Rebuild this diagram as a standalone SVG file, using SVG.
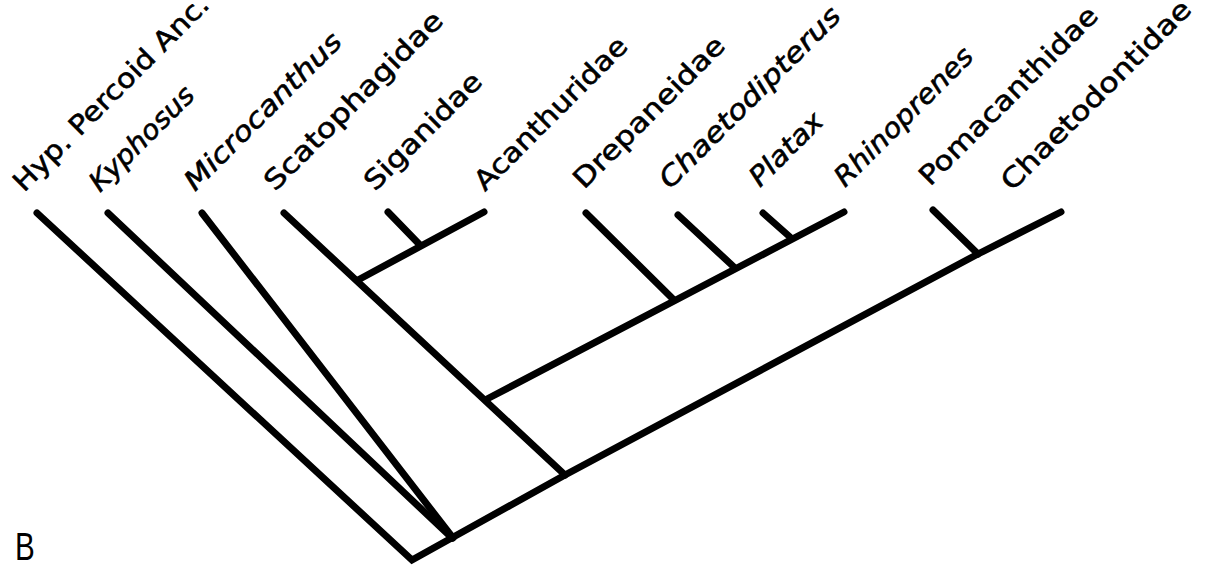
<svg xmlns="http://www.w3.org/2000/svg" width="1218" height="574" viewBox="0 0 1218 574">
<style>
.e{fill:none;stroke:#000;stroke-width:7;stroke-linecap:round;stroke-linejoin:miter}
.t{font-family:"DejaVu Sans","Liberation Sans",Arial,sans-serif;font-size:27px;fill:#000;stroke:#000;stroke-width:0.6}
.i{font-style:italic}
.b{font-family:"Liberation Sans",Arial,sans-serif;font-size:38px;fill:#000}
</style>
<rect width="1218" height="574" fill="#fff"/>
<g id="connectors">
<polyline class="e" points="37,213 412,560 565,475 978,254 1061,212"/>
<polyline class="e" points="108,213 452,538"/>
<polyline class="e" points="202,213 453,538"/>
<polyline class="e" points="284,213 565,475"/>
<polyline class="e" points="358,280 484,212"/>
<polyline class="e" points="388,212 420,245"/>
<polyline class="e" points="487,399 844,212"/>
<polyline class="e" points="586,213 674,300"/>
<polyline class="e" points="678,215 735,268"/>
<polyline class="e" points="763,213 790,237"/>
<polyline class="e" points="933,210 978,254"/>
</g>
<g id="n-hyp"><text class="t" transform="translate(24,193) rotate(-45)" textLength="264" lengthAdjust="spacingAndGlyphs">Hyp. Percoid Anc.</text></g>
<g id="n-kyphosus"><text class="t i" transform="translate(100,193) rotate(-45)" textLength="136" lengthAdjust="spacingAndGlyphs">Kyphosus</text></g>
<g id="n-microcanthus"><text class="t i" transform="translate(195,192) rotate(-45)" textLength="210" lengthAdjust="spacingAndGlyphs">Microcanthus</text></g>
<g id="n-scatophagidae"><text class="t" transform="translate(275,192) rotate(-45)" textLength="240" lengthAdjust="spacingAndGlyphs">Scatophagidae</text></g>
<g id="n-siganidae"><text class="t" transform="translate(375,192) rotate(-45)" textLength="154" lengthAdjust="spacingAndGlyphs">Siganidae</text></g>
<g id="n-acanthuridae"><text class="t" transform="translate(485,192) rotate(-45)" textLength="204" lengthAdjust="spacingAndGlyphs">Acanthuridae</text></g>
<g id="n-drepaneidae"><text class="t" transform="translate(584,190) rotate(-45)" textLength="202" lengthAdjust="spacingAndGlyphs">Drepaneidae</text></g>
<g id="n-chaetodipterus"><text class="t i" transform="translate(670,190) rotate(-45)" textLength="244" lengthAdjust="spacingAndGlyphs">Chaetodipterus</text></g>
<g id="n-platax"><text class="t i" transform="translate(760,188) rotate(-45)" textLength="92" lengthAdjust="spacingAndGlyphs">Platax</text></g>
<g id="n-rhinoprenes"><text class="t i" transform="translate(845,188) rotate(-45)" textLength="184" lengthAdjust="spacingAndGlyphs">Rhinoprenes</text></g>
<g id="n-pomacanthidae"><text class="t" transform="translate(930,187) rotate(-45)" textLength="240" lengthAdjust="spacingAndGlyphs">Pomacanthidae</text></g>
<g id="n-chaetodontidae"><text class="t" transform="translate(1012,192) rotate(-45)" textLength="256" lengthAdjust="spacingAndGlyphs">Chaetodontidae</text></g>
<g id="panel-label"><text class="b" transform="translate(15,560) scale(0.78,1)">B</text></g>
</svg>
